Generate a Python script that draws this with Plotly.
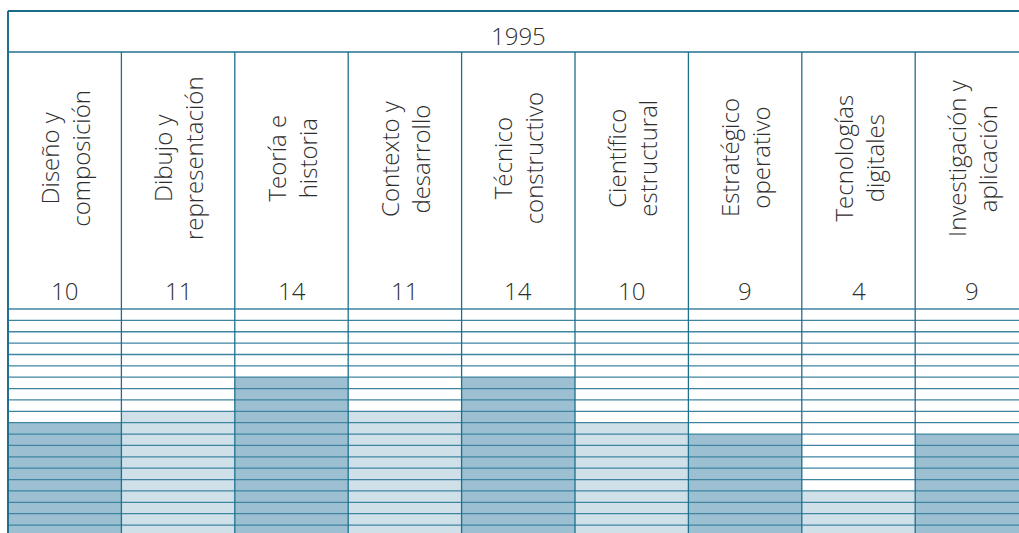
import plotly.graph_objects as go

# ---- data ----
year_label = "1995"
categories = [
    "Diseño y<br>composición",
    "Dibujo y<br>representación",
    "Teoría e<br>historia",
    "Contexto y<br>desarrollo",
    "Técnico<br>constructivo",
    "Científico<br>estructural",
    "Estratégico<br>operativo",
    "Tecnologías<br>digitales",
    "Investigación y<br>aplicación",
]
values = [10, 11, 14, 11, 14, 10, 9, 4, 9]
grid_max = 20

# ---- style ----
DARK_FILL = "#9cc0d1"
LIGHT_FILL = "#cfe0e8"
LINE = "#1f6f8f"
GRID = "#3f85a2"
TEXT = "#2e2e2e"
FONT = "Open Sans"
WEIGHT = 350

W, H = 1019, 533
px_unit_y = 11.37
base_px = 536.4
px_col = 113.4
left_px = 8.0

y_lo = (base_px - H) / px_unit_y
y_hi = base_px / px_unit_y
x_lo = -0.5 - left_px / px_col
x_hi = x_lo + W / px_col

def ypix(p):
    return (base_px - p) / px_unit_y

y_header_top = ypix(11)
y_header_bot = ypix(52)
y_year = ypix(35)
y_labels = ypix(158)
y_numbers = ypix(290.5)

n = len(categories)
xs = list(range(n))
colors = [DARK_FILL if i % 2 == 0 else LIGHT_FILL for i in xs]

fig = go.Figure()
fig.add_trace(go.Bar(
    x=xs, y=values, width=1.0,
    marker=dict(color=colors, line=dict(width=0)),
    hoverinfo="skip", showlegend=False,
))

shapes = []
for k in range(1, grid_max + 1):
    shapes.append(dict(type="line", xref="x", yref="y", layer="above",
                       x0=-0.5, x1=n - 0.5, y0=k, y1=k,
                       line=dict(color=GRID, width=1.3)))
for k in range(1, n + 1):
    shapes.append(dict(type="line", xref="x", yref="y", layer="above",
                       x0=k - 0.5, x1=k - 0.5, y0=0, y1=y_header_bot,
                       line=dict(color=LINE, width=1.3)))
shapes.append(dict(type="line", xref="x", yref="y", layer="above",
                   x0=-0.5, x1=-0.5, y0=0, y1=y_header_top,
                   line=dict(color=LINE, width=2)))
shapes.append(dict(type="line", xref="x", yref="y", layer="above",
                   x0=-0.5, x1=n - 0.5, y0=y_header_top, y1=y_header_top,
                   line=dict(color="#1a6a8a", width=2.2)))
shapes.append(dict(type="line", xref="x", yref="y", layer="above",
                   x0=-0.5, x1=n - 0.5, y0=y_header_bot, y1=y_header_bot,
                   line=dict(color=LINE, width=1.5)))

annotations = [dict(x=(n - 1) / 2, y=y_year, xref="x", yref="y",
                    text=year_label, showarrow=False,
                    font=dict(family=FONT, size=24, color=TEXT, weight=WEIGHT))]
for i, (c, v) in enumerate(zip(categories, values)):
    annotations.append(dict(x=i, y=y_labels, xref="x", yref="y", text=c,
                            textangle=-90, showarrow=False, align="center",
                            font=dict(family=FONT, size=24, color=TEXT, weight=WEIGHT)))
    annotations.append(dict(x=i, y=y_numbers, xref="x", yref="y", text=str(v),
                            showarrow=False,
                            font=dict(family=FONT, size=24, color=TEXT, weight=WEIGHT)))

fig.update_layout(
    width=W, height=H,
    margin=dict(l=0, r=0, t=0, b=0),
    paper_bgcolor="white", plot_bgcolor="white",
    xaxis=dict(range=[x_lo, x_hi], visible=False, fixedrange=True),
    yaxis=dict(range=[y_lo, y_hi], visible=False, fixedrange=True),
    shapes=shapes, annotations=annotations,
    bargap=0,
)

fig.write_html(
    "out.html",
    config={"displayModeBar": False},
    post_script="document.body.style.margin='0';document.body.style.overflow='hidden';",
)
